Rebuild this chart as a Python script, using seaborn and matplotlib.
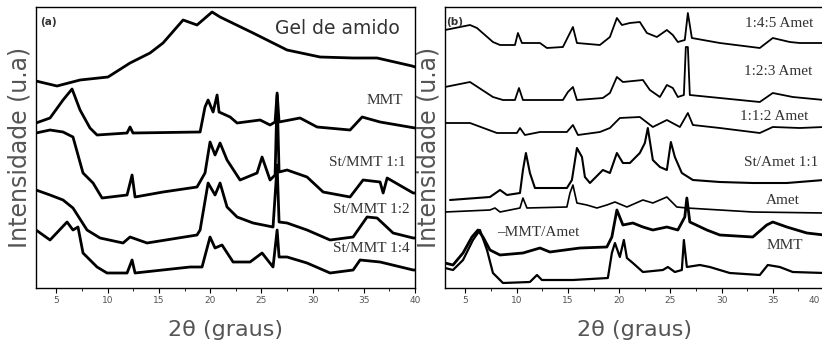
import matplotlib
matplotlib.use("Agg")
import matplotlib.pyplot as plt
import matplotlib.transforms as mtransforms
import seaborn as sns
import numpy as np
from matplotlib.ticker import MultipleLocator

sns.set_theme(style="white")
plt.rcParams['font.family'] = ['DejaVu Sans']

# ---------------- Panel (a) ----------------
gel_x = [3.0, 5.05, 7.30, 10.03, 12.18, 14.13, 15.40, 17.36, 18.72, 20.19, 20.97, 24.19, 27.51, 30.73, 33.96, 36.30, 39.72, 40.0]
gel_y = [207, 202, 208, 211, 225, 235, 245, 268, 263, 276, 271, 255, 238, 231, 230, 230, 222, 221]

mmt_a_x = [3.0, 4.37, 5.64, 6.52, 7.30, 8.27, 8.96, 11.89, 12.18, 12.47, 19.02, 19.50, 19.80, 20.29, 20.68, 20.87, 21.95, 22.63, 24.88, 25.85, 26.34, 26.54, 26.73, 28.78, 30.44, 33.66, 34.84, 36.59, 40.0]
mmt_a_y = [165, 170, 188, 199, 178, 160, 153, 155, 161, 155, 156, 181, 188, 176, 193, 176, 171, 165, 168, 163, 166, 195, 166, 170, 161, 158, 171, 166, 160]

st11_x = [3.0, 4.37, 5.64, 6.61, 7.59, 8.57, 9.45, 11.89, 12.38, 12.67, 15.40, 18.72, 19.50, 19.99, 20.48, 20.97, 21.65, 22.92, 24.58, 25.07, 25.85, 26.34, 26.54, 26.73, 27.51, 29.46, 31.03, 33.66, 34.93, 36.59, 36.89, 37.28, 39.82, 40.0]
st11_y = [155, 158, 156, 151, 115, 105, 90, 93, 113, 91, 96, 101, 115, 146, 133, 145, 128, 108, 115, 131, 108, 113, 193, 116, 118, 111, 96, 91, 108, 106, 95, 110, 95, 95]

st12_x = [3.0, 4.37, 5.64, 6.61, 7.98, 9.25, 11.50, 12.18, 13.84, 18.72, 19.02, 19.80, 20.48, 20.97, 21.65, 22.63, 24.19, 26.14, 26.54, 26.73, 27.51, 29.46, 31.71, 33.96, 35.32, 36.30, 37.86, 39.82, 40.0]
st12_y = [98, 93, 88, 80, 58, 50, 45, 51, 45, 53, 58, 105, 93, 105, 81, 71, 65, 61, 123, 66, 65, 58, 48, 51, 71, 70, 55, 50, 50]

st14_x = [3.0, 4.37, 6.03, 6.61, 7.10, 7.59, 8.96, 9.93, 11.89, 12.38, 12.67, 18.04, 19.21, 19.99, 20.48, 21.16, 22.24, 23.90, 25.07, 26.14, 26.54, 26.73, 27.51, 29.46, 31.71, 33.96, 34.64, 36.59, 39.82, 40.0]
st14_y = [58, 48, 66, 58, 61, 35, 21, 15, 15, 28, 15, 21, 21, 51, 40, 43, 26, 26, 35, 21, 58, 31, 31, 25, 15, 18, 28, 26, 18, 18]

# ---------------- Panel (b) ----------------
a145_x = [3.0, 5.44, 6.12, 7.68, 8.37, 9.83, 10.12, 10.51, 12.27, 12.95, 14.51, 15.0, 15.49, 15.88, 18.12, 19.10, 19.78, 20.27, 21.05, 22.02, 22.71, 23.68, 24.66, 25.24, 25.73, 26.41, 26.71, 27.10, 29.83, 33.73, 35.0, 36.66, 37.63, 40.0]
a145_y = [258, 263, 260, 246, 243, 243, 255, 245, 245, 240, 241, 251, 261, 245, 243, 251, 270, 263, 265, 266, 255, 251, 258, 253, 246, 248, 275, 250, 245, 240, 250, 246, 245, 245]

a123_x = [3.0, 5.44, 7.68, 8.66, 9.83, 10.22, 10.61, 14.51, 15.0, 15.49, 15.88, 18.41, 19.10, 19.78, 20.37, 22.32, 23.0, 23.98, 24.66, 25.24, 25.73, 26.32, 26.51, 26.71, 26.90, 29.83, 33.73, 35.0, 36.95, 40.0]
a123_y = [201, 206, 191, 188, 188, 200, 188, 188, 196, 201, 188, 190, 195, 211, 206, 208, 198, 191, 203, 200, 191, 193, 241, 241, 193, 190, 186, 195, 191, 188]

a112_x = [3.0, 5.44, 8.07, 10.02, 10.32, 10.80, 12.27, 14.90, 15.49, 15.98, 18.12, 19.10, 20.07, 22.02, 23.29, 24.66, 25.93, 26.71, 27.20, 29.83, 33.73, 35.0, 37.63, 40.0]
a112_y = [165, 165, 155, 155, 160, 153, 156, 156, 163, 153, 156, 160, 170, 171, 161, 168, 161, 175, 163, 160, 155, 161, 160, 161]

stamet_x = [3.49, 7.39, 8.37, 9.05, 10.32, 10.61, 10.90, 11.29, 11.78, 14.90, 15.39, 15.88, 16.37, 16.66, 17.15, 18.41, 19.10, 19.78, 20.37, 21.05, 22.02, 22.51, 22.80, 23.29, 23.98, 24.66, 25.05, 25.44, 26.12, 27.20, 29.83, 33.05, 36.37, 40.0]
stamet_y = [88, 91, 98, 93, 95, 118, 135, 115, 100, 100, 108, 140, 131, 111, 105, 118, 115, 135, 125, 125, 135, 145, 160, 128, 121, 118, 146, 131, 115, 108, 106, 105, 105, 108]

amet_x = [3.0, 7.39, 7.88, 8.37, 10.32, 10.61, 11.0, 14.90, 15.20, 15.49, 15.88, 16.85, 17.83, 18.80, 19.59, 20.76, 22.32, 23.29, 24.66, 25.63, 26.61, 29.83, 33.05, 40.0]
amet_y = [76, 78, 80, 76, 80, 90, 80, 81, 95, 103, 85, 83, 80, 83, 86, 81, 88, 85, 91, 81, 80, 78, 76, 75]

mmtamet_x = [3.0, 3.78, 4.76, 5.63, 6.22, 6.71, 7.39, 8.37, 10.61, 12.27, 13.24, 16.17, 18.80, 19.29, 19.78, 20.37, 21.34, 22.32, 23.29, 24.66, 25.73, 26.41, 26.61, 26.90, 28.56, 29.83, 33.05, 34.41, 35.0, 36.37, 38.32, 40.0]
mmtamet_y = [25, 23, 35, 51, 58, 51, 38, 33, 35, 40, 36, 40, 41, 51, 78, 63, 65, 61, 58, 61, 58, 71, 90, 66, 58, 53, 51, 63, 66, 61, 55, 53]

mmt_b_x = [3.0, 3.78, 4.76, 5.73, 6.41, 7.10, 7.68, 8.66, 11.29, 11.98, 12.46, 15.49, 18.90, 19.29, 19.59, 20.07, 20.46, 20.76, 21.34, 22.32, 24.27, 24.76, 25.44, 26.12, 26.32, 26.61, 27.88, 28.85, 30.80, 33.73, 34.51, 35.68, 36.95, 40.0]
mmt_b_y = [20, 18, 28, 48, 58, 38, 15, 5, 6, 13, 8, 8, 10, 35, 45, 31, 48, 30, 25, 16, 18, 21, 16, 18, 48, 21, 23, 21, 15, 13, 23, 21, 16, 15]

xticks = [5, 10, 15, 20, 25, 30, 35, 40]
xticklabels = ['5', '10', '15', '20', '25', '30', '35', '40']

W, H = 822, 352
fig = plt.figure(figsize=(W / 100, H / 100), dpi=100)
axA = fig.add_axes([36 / W, (H - 288) / H, (415 - 36) / W, (288 - 7) / H])
axB = fig.add_axes([445 / W, (H - 288) / H, (824 - 445) / W, (288 - 7) / H])

def draw(ax, xs, ys, lw):
    sns.lineplot(x=xs, y=ys, ax=ax, color='black', lw=lw, sort=False, estimator=None)

draw(axA, gel_x, gel_y, 2.0)
draw(axA, mmt_a_x, mmt_a_y, 2.0)
draw(axA, st11_x, st11_y, 2.0)
draw(axA, st12_x, st12_y, 2.0)
draw(axA, st14_x, st14_y, 2.0)

draw(axB, a145_x, a145_y, 1.3)
draw(axB, a123_x, a123_y, 1.3)
draw(axB, a112_x, a112_y, 1.3)
draw(axB, stamet_x, stamet_y, 1.5)
draw(axB, amet_x, amet_y, 1.2)
draw(axB, mmtamet_x, mmtamet_y, 2.0)
draw(axB, mmt_b_x, mmt_b_y, 1.6)

for ax in (axA, axB):
    ax.set_xlim(3, 40)
    ax.set_ylim(0, 281)
    ax.set_yticks([])
    ax.set_xticks(xticks)
    ax.set_xticklabels(xticklabels)
    ax.xaxis.set_minor_locator(MultipleLocator(2.5))
    ax.tick_params(axis='x', which='major', direction='out', length=3.5, width=0.8,
                   color='black', labelsize=6.5, labelcolor='#555555', pad=2, bottom=True)
    ax.tick_params(axis='x', which='minor', direction='out', length=2, width=0.6,
                   color='black', bottom=True)
    for s in ax.spines.values():
        s.set_color('black')
        s.set_linewidth(1.0)
    ax.set_ylabel('Intensidade (u.a)', fontsize=17, color='#555555', labelpad=3)
    ax.set_xlabel('2θ (graus)', fontsize=16, color='#555555', labelpad=11)
    ax.set_facecolor('white')

# keep the last tick label of panel (b) inside the picture
last = axB.get_xticklabels()[-1]
last.set_horizontalalignment('right')
last.set_transform(last.get_transform() + mtransforms.ScaledTranslation(-4 / 100, 0, fig.dpi_scale_trans))

serif = ['Liberation Serif', 'DejaVu Serif']
lab = dict(family=serif, color='#333333', ha='right', va='center')

axA.text(0.011, 0.948, '(a)', transform=axA.transAxes, fontsize=7.5, fontweight='bold',
         color='#333333', ha='left', va='center')
axA.text(0.960, 0.925, 'Gel de amido', transform=axA.transAxes, fontsize=13.5,
         color='#333333', ha='right', va='center')
axA.text(0.968, 0.669, 'MMT', transform=axA.transAxes, fontsize=11, **lab)
axA.text(0.976, 0.445, 'St/MMT 1:1', transform=axA.transAxes, fontsize=11, **lab)
axA.text(0.987, 0.278, 'St/MMT 1:2', transform=axA.transAxes, fontsize=11, **lab)
axA.text(0.987, 0.142, 'St/MMT 1:4', transform=axA.transAxes, fontsize=11, **lab)

axB.text(0.004, 0.945, '(b)', transform=axB.transAxes, fontsize=7.5, fontweight='bold',
         color='#333333', ha='left', va='center')
axB.text(0.971, 0.943, '1:4:5 Amet', transform=axB.transAxes, fontsize=11, **lab)
axB.text(0.969, 0.769, '1:2:3 Amet', transform=axB.transAxes, fontsize=11, **lab)
axB.text(0.958, 0.609, '1:1:2 Amet', transform=axB.transAxes, fontsize=11, **lab)
axB.text(0.984, 0.445, 'St/Amet 1:1', transform=axB.transAxes, fontsize=11, **lab)
axB.text(0.937, 0.313, 'Amet', transform=axB.transAxes, fontsize=11, **lab)
axB.text(0.945, 0.153, 'MMT', transform=axB.transAxes, fontsize=11, **lab)
axB.text(0.137, 0.199, '‒MMT/Amet', transform=axB.transAxes, fontsize=11,
         family=serif, color='#333333', ha='left', va='center')

fig.savefig('out.png', dpi=100, facecolor='white')
